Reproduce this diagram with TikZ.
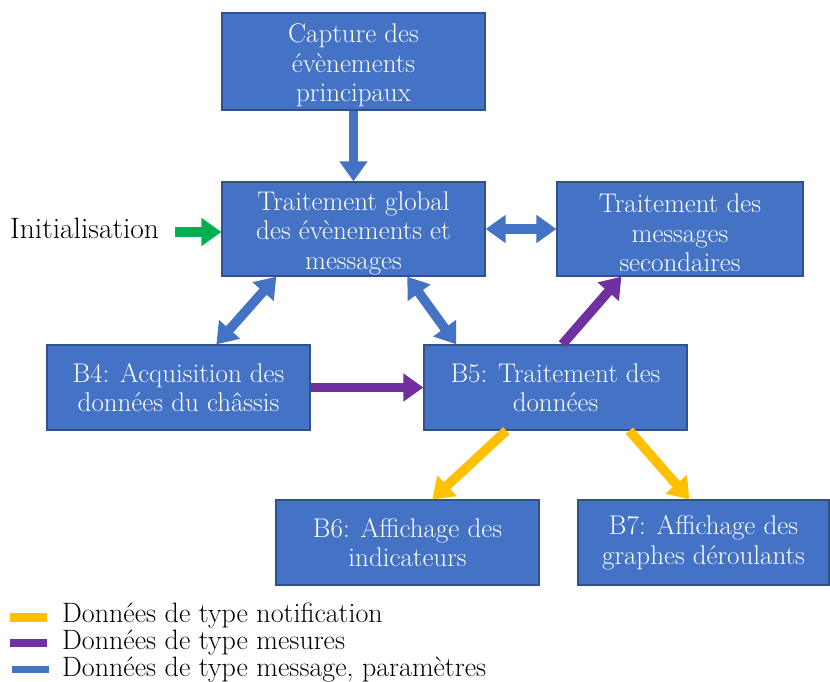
\documentclass[tikz,border=0pt]{standalone}
\usetikzlibrary{arrows.meta}
\definecolor{boxblue}{HTML}{4472C4}
\definecolor{boxedge}{HTML}{2F528F}
\definecolor{mpurple}{HTML}{7030A0}
\definecolor{myellow}{HTML}{FFC000}
\definecolor{mgreen}{HTML}{00B050}
\newcommand{\tpstrut}{\rule{0pt}{27pt}}
\begin{document}
\begin{tikzpicture}[x=1pt,y=-1pt,
  blk/.style={draw=boxedge,line width=1.3pt,fill=boxblue,text=white,align=center,
    inner sep=0pt,font=\fontsize{27}{29.5}\selectfont},
  fl/.style={line width=9.5pt,-{Triangle[width=27pt,length=20pt]}},
  fl2/.style={line width=9.5pt,{Triangle[width=27pt,length=20pt]}-{Triangle[width=27pt,length=20pt]}},
  lbl/.style={font=\fontsize{28}{28}\selectfont,anchor=base west,inner sep=0pt}]
\useasboundingbox (0,0) rectangle (830,682);
\node[blk,minimum width=263pt,minimum height=97pt] (cap) at (353.5,61.5) {\tpstrut Capture des\\évènements\\principaux};
\node[blk,minimum width=263pt,minimum height=94pt] (glob) at (353.5,229) {\tpstrut Traitement global\\des évènements et\\messages};
\node[blk,minimum width=246pt,minimum height=94pt] (sec) at (680,229) {\tpstrut Traitement des\\messages\\secondaires};
\node[blk,minimum width=263pt,minimum height=85pt] (b4) at (178.5,387.5) {B4: Acquisition des\\données du châssis};
\node[blk,minimum width=263pt,minimum height=85pt] (b5) at (555.5,387.5) {B5: Traitement des\\données};
\node[blk,minimum width=263pt,minimum height=85pt] (b6) at (407.5,542.5) {B6: Affichage des\\indicateurs};
\node[blk,minimum width=251pt,minimum height=85pt] (b7) at (703.5,542.5) {B7: Affichage des\\graphes déroulants};
\node[lbl,font=\fontsize{29.5}{29.5}\selectfont] (init) at (10,238) {Initialisation};

\draw[fl,boxblue] (cap.south) -- (glob.north);
\draw[fl,mgreen] (175,232) coordinate (g0) -- (glob.west |- g0);
\draw[fl2,boxblue] (glob.east) -- (sec.west);
\draw[fl2,boxblue] ([xshift=55pt]glob.south west) -- ([xshift=170pt]b4.north west);
\draw[fl2,boxblue] ([xshift=186pt]glob.south west) -- ([xshift=33pt]b5.north west);
\draw[fl,mpurple] (b4.east) -- (b5.west);
\draw[fl,mpurple] ([xshift=139pt]b5.north west) -- ([xshift=65pt]sec.south west);
\draw[fl,myellow] ([xshift=83pt]b5.south west) -- ([xshift=157pt]b6.north west);
\draw[fl,myellow] ([xshift=206pt]b5.south west) -- ([xshift=112pt]b7.north west);

\draw[line width=9pt,myellow] (10,617.5) coordinate (l1a) -- (47,617.5) coordinate (l1b);
\draw[line width=8pt,mpurple] (10,642.5) coordinate (l2a) -- (47,642.5) coordinate (l2b);
\draw[line width=7pt,boxblue] (12,669.5) coordinate (l3a) -- (49,669.5) coordinate (l3b);
\node[lbl] (t1) at (62,622) {Données de type notification};
\node[lbl] (t2) at (62,649) {Données de type mesures};
\node[lbl] (t3) at (62,676) {Données de type message, paramètres};
\end{tikzpicture}
\end{document}
